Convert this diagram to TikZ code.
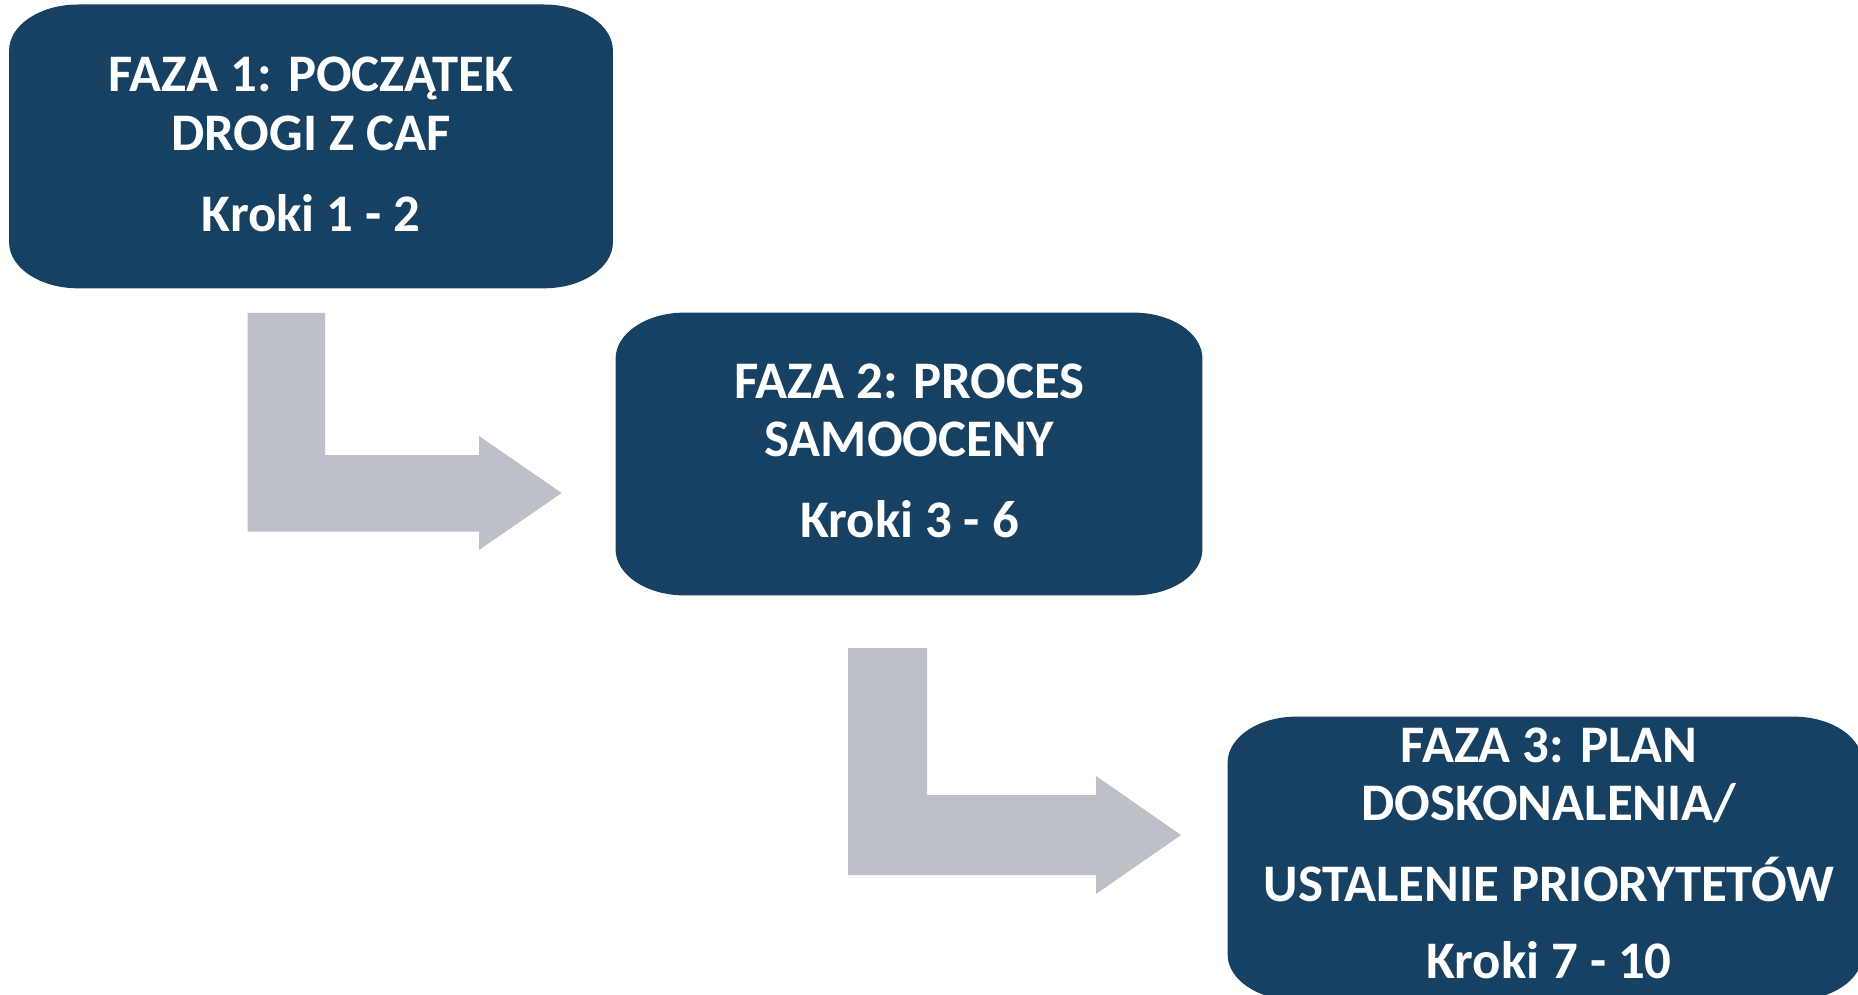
\documentclass[tikz,border=0pt]{standalone}
\usepackage{fontspec}
\setmainfont{Carlito}
\usetikzlibrary{calc,backgrounds}
\definecolor{phaseblue}{RGB}{22,65,99}
\definecolor{arrowgrey}{RGB}{189,192,199}

% filled box with elliptical corners, spanning the anchors of node #1
\newcommand\phasefill[1]{%
  \fill[phaseblue] let \p1=(#1.south west), \p2=(#1.north east) in
    (\x1+34.5pt,\y1) -- (\x2-34.5pt,\y1)
    arc[start angle=-90,end angle=0,x radius=34.5pt,y radius=23pt]
    -- (\x2,\y2-23pt)
    arc[start angle=0,end angle=90,x radius=34.5pt,y radius=23pt]
    -- (\x1+34.5pt,\y2)
    arc[start angle=90,end angle=180,x radius=34.5pt,y radius=23pt]
    -- (\x1,\y1+23pt)
    arc[start angle=180,end angle=270,x radius=34.5pt,y radius=23pt]
    -- cycle;}

\tikzset{
  phase/.style={rectangle, draw=none, inner sep=0pt},
  phaseline/.style={anchor=base, text=white, inner sep=0pt,
    font=\fontsize{26.4}{30}\selectfont\bfseries},
  bentarrow/.style={fill=arrowgrey, draw=none},
}

\begin{document}
\begin{tikzpicture}[x=0.5pt,y=-0.5pt]
\useasboundingbox (0,0) rectangle (1858,995);

% phase boxes
\node[phase, minimum width=301.5pt, minimum height=141.5pt] (p1) at (311,146.4) {};
\node[phase, minimum width=293pt, minimum height=141pt] (p2) at (909,454) {};
\node[phase, minimum width=317pt, minimum height=141.5pt] (p3) at (1545,858.5) {};

\begin{pgfonlayer}{background}
  \phasefill{p1}
  \phasefill{p2}
  \phasefill{p3}
\end{pgfonlayer}

% phase texts
\node[phaseline] (p1a) at (311,92) {FAZA 1: POCZĄTEK};
\node[phaseline] (p1b) at (311,150) {DROGI Z CAF};
\node[phaseline] (p1c) at (311,231) {Kroki 1 - 2};

\node[phaseline] (p2a) at (909.5,398) {FAZA 2: PROCES};
\node[phaseline] (p2b) at (909.5,456.5) {SAMOOCENY};
\node[phaseline] (p2c) at (909.5,537.5) {Kroki 3 - 6};

\node[phaseline] (p3a) at (1549,762) {FAZA 3: PLAN};
\node[phaseline] (p3b) at (1549,820) {DOSKONALENIA/};
\node[phaseline] (p3c) at (1549,901) {USTALENIE PRIORYTETÓW};
\node[phaseline] (p3d) at (1549,978) {Kroki 7 - 10};

% bent block arrows between the phases
\coordinate (a1tip) at (561.7,493);
\fill[bentarrow] (247.7,312.8) -- (325,312.8) -- (325,455) -- (479,455) -- (479,436)
  -- (a1tip) -- (479,550) -- (479,531.5) -- (247.7,531.5) -- cycle;

\coordinate (a2tip) at (1181,835);
\fill[bentarrow] (848,648) -- (927,648) -- (927,795) -- (1096,795) -- (1096,776)
  -- (a2tip) -- (1096,894) -- (1096,875) -- (848,875) -- cycle;
\end{tikzpicture}
\end{document}
